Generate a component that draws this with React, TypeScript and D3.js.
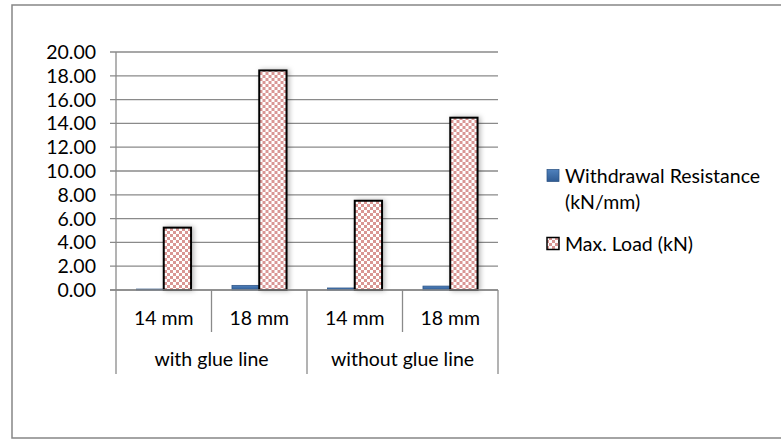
import React from "react";
import * as d3 from "d3";

// Chart values
const groups = ["with glue line", "without glue line"];
const sizes = ["14 mm", "18 mm"];
const seriesNames = ["Withdrawal Resistance (kN/mm)", "Max. Load (kN)"];
const withdrawalResistance = [0.08, 0.39, 0.17, 0.33];
const maxLoad = [5.24, 18.45, 7.5, 14.48];
const yTicks = [0, 2, 4, 6, 8, 10, 12, 14, 16, 18, 20];

const W = 781;
const H = 439;
const FONT = "Lato, 'Open Sans', sans-serif";
const FS = 19.5;

const categories = groups.flatMap((g) => sizes.map((s) => `${g}|${s}`));

export default function App() {
  const plot = { left: 116, right: 498, top: 52, bottom: 290 };

  const y = d3.scaleLinear().domain([0, 20]).range([plot.bottom, plot.top]);
  const x = d3
    .scaleBand<string>()
    .domain(categories)
    .range([plot.left, plot.right])
    .paddingInner(0)
    .paddingOuter(0);
  const xs = d3
    .scaleBand<string>()
    .domain(seriesNames)
    .range([0, x.bandwidth()])
    .paddingInner(0)
    .paddingOuter(0.75);
  const xg = d3
    .scaleBand<string>()
    .domain(groups)
    .range([plot.left, plot.right]);

  const rows = categories.map((c, i) => ({
    cat: c,
    size: sizes[i % sizes.length],
    values: [withdrawalResistance[i], maxLoad[i]],
  }));

  const fmt = d3.format(".2f");
  const bw = xs.bandwidth();

  return (
    <svg
      width={W}
      height={H}
      style={{ position: "absolute", left: 0, top: 0, background: "#fff" }}
      fontFamily={FONT}
    >
      <defs>
        <pattern id="checker" width="6" height="6" patternUnits="userSpaceOnUse">
          <rect width="6" height="6" fill="#ffffff" />
          <rect x="0" y="0" width="3" height="3" fill="#d99694" />
          <rect x="3" y="3" width="3" height="3" fill="#d99694" />
        </pattern>
        <linearGradient id="blueFill" x1="0" y1="0" x2="0" y2="1">
          <stop offset="0" stopColor="#4f81bd" />
          <stop offset="1" stopColor="#2f5b93" />
        </linearGradient>
        <filter id="glow" x="-40%" y="-10%" width="190%" height="120%">
          <feDropShadow dx="2" dy="0" stdDeviation="2.5" floodColor="#000" floodOpacity="0.28" />
        </filter>
      </defs>

      {/* chart frame */}
      <rect x={12} y={5} width={790} height={433} fill="#fff" stroke="#868686" strokeWidth={1.5} />

      {/* gridlines + y ticks */}
      {yTicks.map((t) => (
        <g key={t}>
          <line
            x1={plot.left - 6}
            x2={plot.right}
            y1={y(t)}
            y2={y(t)}
            stroke="#8a8a8a"
            strokeWidth={1.3}
          />
          <text x={96} y={y(t)} dy="0.36em" textAnchor="end" fontSize={FS} fill="#000">
            {fmt(t)}
          </text>
        </g>
      ))}
      <line x1={plot.left} x2={plot.left} y1={plot.top} y2={plot.bottom} stroke="#8a8a8a" strokeWidth={1.3} />

      {/* bars */}
      {rows.map((r) => (
        <g key={r.cat} transform={`translate(${x(r.cat)},0)`}>
          <rect
            x={xs(seriesNames[0])}
            y={y(r.values[0])}
            width={bw}
            height={y(0) - y(r.values[0])}
            fill="url(#blueFill)"
            stroke="#2c5384"
            strokeWidth={0.75}
          />
          <rect
            x={xs(seriesNames[1])}
            y={y(r.values[1])}
            width={bw}
            height={y(0) - y(r.values[1])}
            fill="url(#checker)"
            stroke="#000"
            strokeWidth={2}
            filter="url(#glow)"
          />
        </g>
      ))}

      {/* category axis */}
      <line x1={plot.left - 6} x2={plot.right} y1={plot.bottom} y2={plot.bottom} stroke="#8a8a8a" strokeWidth={1.3} />
      {categories.slice(1).map((c, i) =>
        (i + 1) % sizes.length === 0 ? null : (
          <line
            key={c}
            x1={x(c)}
            x2={x(c)}
            y1={plot.bottom}
            y2={332}
            stroke="#8a8a8a"
            strokeWidth={1.3}
          />
        )
      )}
      {[...groups.map((g) => xg(g) as number), plot.right].map((gx, i) => (
        <line key={i} x1={gx} x2={gx} y1={plot.bottom} y2={374} stroke="#8a8a8a" strokeWidth={1.3} />
      ))}
      {rows.map((r) => (
        <text
          key={r.cat + "-l"}
          x={(x(r.cat) as number) + x.bandwidth() / 2}
          y={318}
          dy="0.36em"
          textAnchor="middle"
          fontSize={FS}
        >
          {r.size}
        </text>
      ))}
      {groups.map((g) => (
        <text
          key={g}
          x={(xg(g) as number) + xg.bandwidth() / 2}
          y={359}
          dy="0.36em"
          textAnchor="middle"
          fontSize={FS}
        >
          {g}
        </text>
      ))}

      {/* legend */}
      <g>
        <rect x={547} y={169.5} width={12} height={12} fill="url(#blueFill)" stroke="#2c5384" strokeWidth={0.75} />
        <text x={565} y={175.5} dy="0.36em" fontSize={FS}>
          Withdrawal Resistance
        </text>
        <text x={565} y={201.5} dy="0.36em" fontSize={FS}>
          (kN/mm)
        </text>
        <rect x={547} y={237.5} width={12} height={12} fill="url(#checker)" stroke="#000" strokeWidth={1.5} />
        <text x={565} y={243.5} dy="0.36em" fontSize={FS}>
          Max. Load (kN)
        </text>
      </g>
    </svg>
  );
}
